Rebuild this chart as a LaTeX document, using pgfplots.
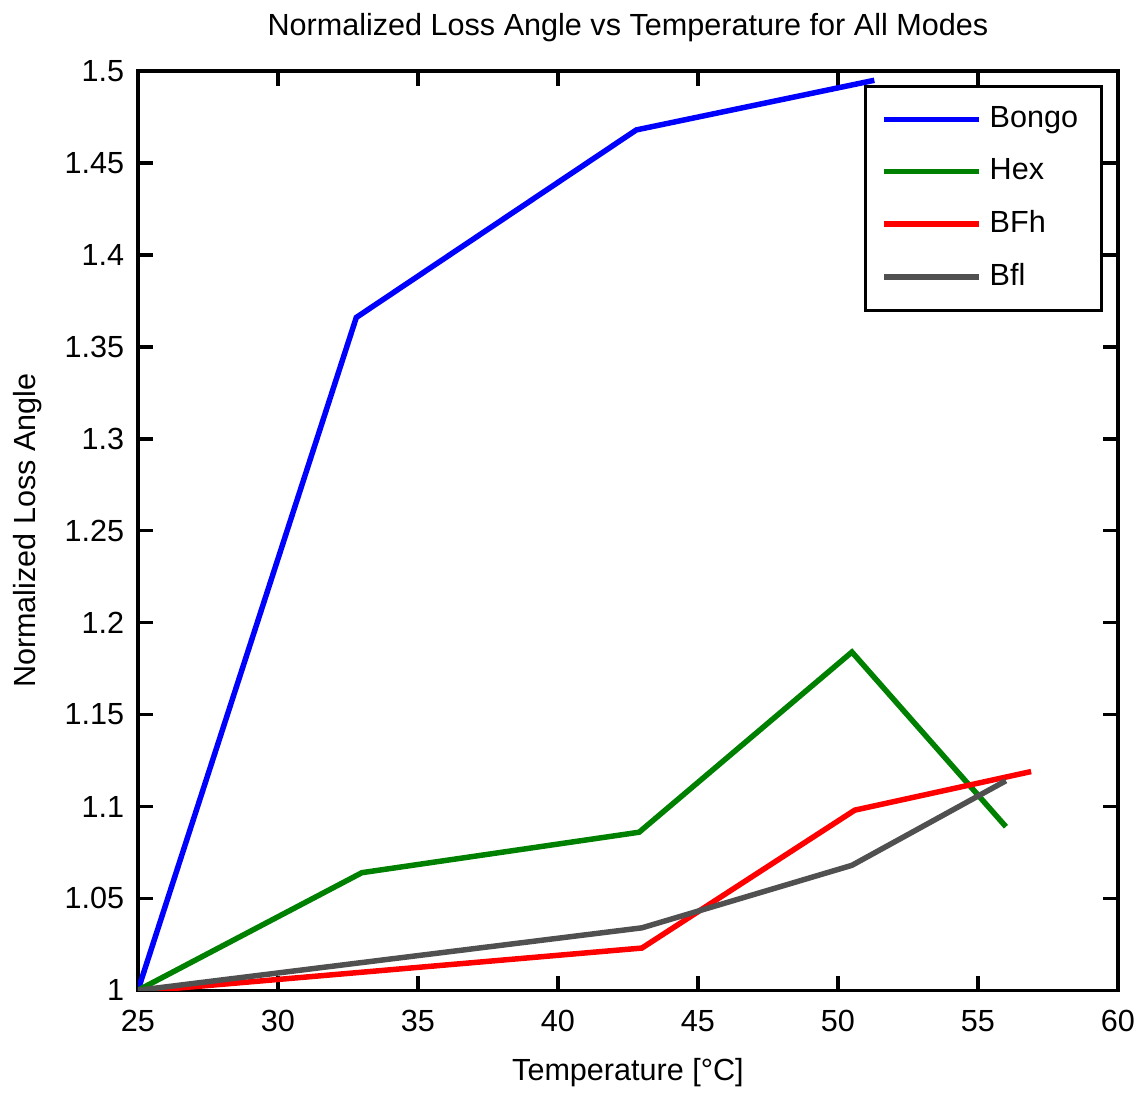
\documentclass[border=0pt]{standalone}
\usepackage{fontspec}
\setmainfont{Liberation Sans}
\usepackage{pgfplots}
\pgfplotsset{compat=1.18}
\definecolor{mgreen}{RGB}{0,128,0}
\definecolor{mgrey}{RGB}{80,80,80}
\begin{document}
\begin{tikzpicture}
\begin{axis}[
  scale only axis,
  width=250pt, height=234.5pt,
  xmin=25, xmax=60, ymin=1, ymax=1.5,
  xtick={25,30,...,60},
  ytick={1,1.05,...,1.5},
  yticklabels={1,1.05,1.1,1.15,1.2,1.25,1.3,1.35,1.4,1.45,1.5},
  tick align=inside, tick pos=both,
  major tick length=3.75pt,
  axis line style={line width=0.9pt},
  every tick/.style={black, line width=0.9pt},
  /pgf/number format/assume math mode=true,
  font=\fontsize{7.8}{9}\selectfont,
  ticklabel style={font=\fontsize{7.8}{9}\selectfont},
  xticklabel style={yshift=-1.5pt},
  title={Normalized Loss Angle vs Temperature for All Modes},
  title style={yshift=-2pt},
  xlabel={Temperature [°C]},
  ylabel={Normalized Loss Angle},
  xlabel style={yshift=0pt},
  ylabel style={yshift=-1pt},
  legend style={at={(0.985,0.985)}, anchor=north east, draw=black, line width=0.8pt,
    font=\fontsize{7.8}{9}\selectfont, row sep=2.4pt, inner xsep=4pt, inner ysep=3pt},
  legend cell align=left,
  legend image code/.code={\draw[#1, line width=1.4pt] (0cm,0cm) -- (0.85cm,0cm);},
  every axis plot/.append style={line width=1.4pt},
]
\addplot[blue] coordinates {(25,1.0) (32.8,1.366) (42.8,1.468) (51.3,1.495)};
\addplot[mgreen] coordinates {(25,1.0) (33,1.064) (42.9,1.086) (50.5,1.184) (56,1.089)};
\addplot[red] coordinates {(25.5,1.0) (43,1.023) (50.6,1.098) (56.9,1.119)};
\addplot[mgrey] coordinates {(25,1.0) (43,1.034) (50.5,1.068) (56,1.114)};
\legend{Bongo, Hex, BFh, Bfl}
\end{axis}
\end{tikzpicture}
\end{document}
